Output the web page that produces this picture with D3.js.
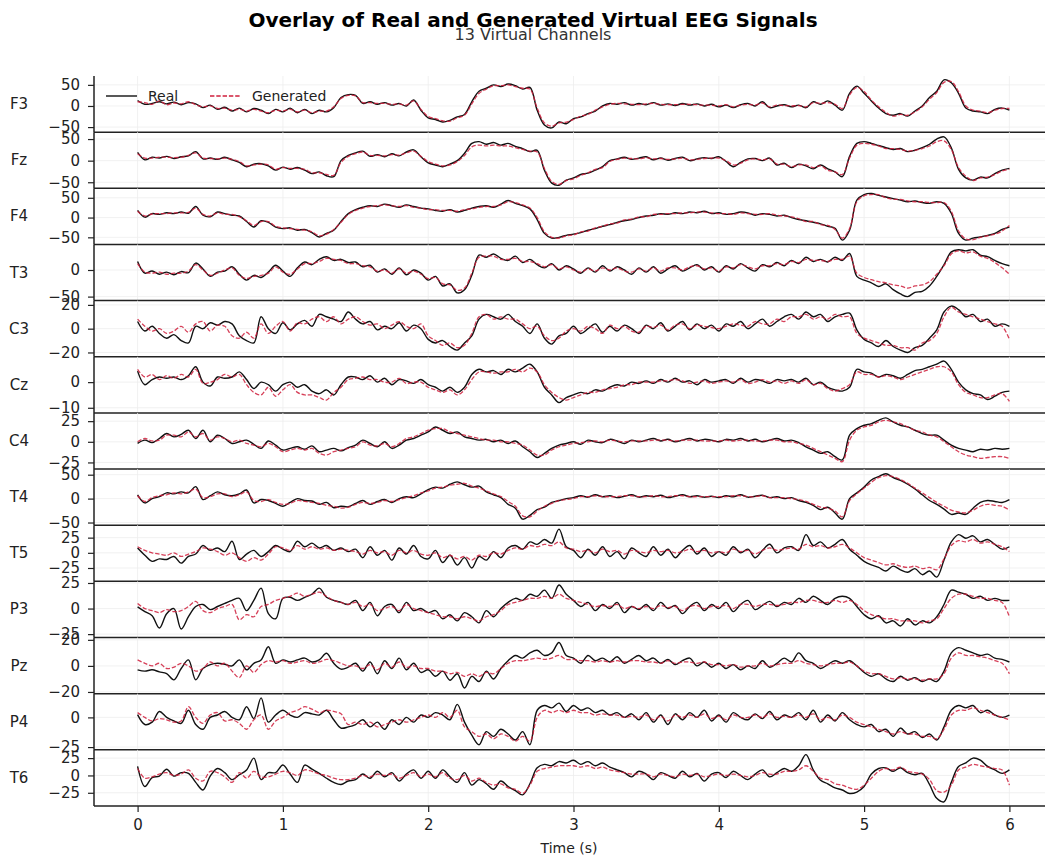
<!DOCTYPE html>
<html>
<head>
<meta charset="utf-8">
<script src="https://cdn.jsdelivr.net/npm/d3@7"></script>
<style>
  body { margin: 0; background: #fff; }
  text { font-family: "DejaVu Sans", sans-serif; fill: #222; }
</style>
</head>
<body>
<svg id="chart" width="1045" height="857"></svg>
<script>
// channel names, top to bottom
var channels = ['F3', 'Fz', 'F4', 'T3', 'C3', 'Cz', 'C4', 'T4', 'T5', 'P3', 'Pz', 'P4', 'T6'];
var sampleStep = 0.05; // seconds between samples, 0..6 s
var xTicks = [0, 1, 2, 3, 4, 5, 6];

// y range and ticks of each panel
var yDomains = [[-62, 71], [-64, 66], [-68, 74], [-57.5, 48], [-23.6, 23.6], [-12, 9.9], [-33, 35],
  [-55.6, 61.8], [-47, 45.5], [-28.3, 26.6], [-21.3, 21.8], [-27.3, 20], [-44, 37]];
var yTicks = [[-50, 0, 50], [-50, 0, 50], [-50, 0, 50], [-50, 0], [-20, 0, 20], [-10, 0], [-25, 0, 25],
  [-50, 0, 50], [-25, 0, 25], [-25, 0, 25], [-20, 0, 20], [-25, 0], [-25, 0, 25]];

// one value per 0.05 s
var realF3 = [13,4,6,10,5,9,3,8,5,-4, 2,-8,-3,-12,-5,-14,-6,-10,-18,-8, -14,-5,-16,-8,-18,-10,-14,-4,20,27,
  25,6,10,4,8,2,6,0,14,-10, -28,-32,-38,-34,-26,-20,10,35,42,50, 46,52,48,40,44,-10,-45,-52,-38,-42,
  -30,-26,-18,-12,0,6,4,8,2,6, 3,8,2,5,1,6,2,5,0,4, -2,2,-4,3,6,0,10,-4,0,3,
  -2,2,-4,10,4,12,2,-10,30,47, 30,12,-5,-18,-22,-18,-24,-12,0,20, 35,62,55,30,-5,-12,-14,-18,-8,-5, -10];
var genF3 = [10,8,4,12,3,7,5,10,3,-2, 0,-6,-5,-10,-8,-12,-8,-12,-16,-10, -12,-8,-14,-10,-16,-12,-12,-2,18,25,
  24,8,8,6,6,4,5,2,12,-8, -25,-30,-35,-36,-28,-22,5,30,40,48, 48,50,46,42,40,-5,-40,-48,-40,-38,
  -32,-24,-20,-10,-2,4,6,5,4,3, 5,6,4,3,3,4,4,3,2,2, 0,3,-2,2,4,2,7,-2,2,1,
  0,1,-2,8,6,8,4,-6,26,44, 34,14,-2,-15,-24,-20,-22,-14,-2,16, 32,56,58,34,0,-10,-12,-16,-10,-6, -6];

var realFz = [19,2,8,6,10,5,9,11,21,4, 6,3,8,2,-4,-14,-8,-7,-12,-22, -15,-20,-16,-22,-30,-26,-35,-37,0,12,
  18,22,10,14,9,16,11,20,25,9, -5,-10,-14,-8,0,17,40,44,38,42, 36,40,33,28,21,24,-22,-52,-57,-45,
  -40,-32,-29,-22,-14,0,4,8,3,6, 9,2,6,1,5,8,0,4,7,5, 9,-2,-14,-4,4,5,0,6,-10,-6,
  -16,-8,-12,-19,-10,-19,-26,-37,10,40, 44,40,35,30,26,28,21,24,30,38, 50,55,30,-20,-40,-45,-38,-40,-30,-22, -18];
var genFz = [16,6,6,8,8,7,8,12,18,6, 5,4,6,3,-2,-12,-10,-8,-10,-20, -16,-18,-18,-20,-28,-28,-32,-34,-4,10,
  16,20,12,12,11,14,13,18,22,10, -2,-8,-12,-10,-2,12,32,36,34,36, 34,34,30,26,22,20,-18,-48,-55,-46,
  -42,-34,-28,-20,-16,-2,3,6,5,4, 7,4,5,3,4,6,2,3,5,6, 6,0,-10,-6,2,4,2,4,-8,-8,
  -14,-10,-10,-16,-12,-22,-26,-32,6,36, 40,38,34,28,28,26,22,24,28,34, 44,46,26,-16,-36,-46,-40,-38,-32,-24, -20];

var realF4 = [18,1,10,8,12,10,14,11,28,6, 2,14,10,6,4,-10,-24,-8,-12,-24, -28,-26,-32,-30,-38,-49,-40,-32,-10,10,
  20,26,30,28,34,30,26,32,28,24, 22,18,16,20,14,18,24,28,30,26, 34,43,36,30,22,-5,-40,-52,-50,-45,
  -42,-38,-32,-28,-22,-18,-12,-8,-5,0, 4,6,10,8,12,10,14,12,16,10, 12,8,10,14,12,6,10,8,4,6,
  0,-5,-8,-12,-16,-22,-27,-57,-32,44, 58,61,56,52,48,44,40,42,38,36, 40,36,11,-40,-57,-52,-49,-45,-40,-30, -24];
var genF4 = [16,4,9,10,10,12,12,13,24,8, 4,12,8,8,2,-8,-20,-10,-10,-22, -26,-28,-30,-32,-36,-46,-42,-30,-12,8,
  18,24,28,30,32,30,28,30,26,24, 20,20,18,18,16,20,22,26,28,28, 32,40,38,32,24,0,-36,-50,-52,-46,
  -44,-36,-34,-26,-22,-16,-14,-6,-4,2, 2,8,8,10,10,12,12,14,14,12, 10,10,8,12,10,8,8,10,6,4,
  2,-3,-10,-10,-18,-20,-30,-52,-28,40, 55,58,58,50,46,46,42,40,40,38, 38,38,16,-34,-54,-56,-50,-46,-42,-34, -20];

var realT3 = [16,-6,-2,-8,-4,-9,-3,-5,13,2, -12,-4,-2,6,-8,-19,-10,-14,-4,9, -2,-12,4,15,10,20,25,18,20,14,
  15,6,9,-4,2,-8,4,-9,0,-6, -19,-12,-30,-26,-43,-37,-10,28,24,30, 22,18,26,14,20,10,4,12,0,8,
  2,-6,4,-4,8,-2,6,0,-8,4, -4,6,-6,2,8,-2,4,10,0,6, -4,8,2,12,4,-2,10,6,14,8,
  18,12,24,16,20,15,24,18,31,-12, -19,-24,-31,-26,-37,-45,-50,-42,-40,-30, -12,10,34,38,36,38,28,25,18,12, 8];
var genT3 = [12,-4,-6,-4,-8,-6,-6,-2,10,0, -10,-6,0,4,-10,-16,-12,-10,-6,6, -4,-8,2,12,12,16,22,20,18,12,
  12,8,6,-2,0,-6,2,-6,-2,-8, -16,-14,-26,-28,-38,-34,-6,24,26,26, 20,20,22,16,16,12,6,10,2,6,
  0,-4,2,-2,4,0,4,-2,-4,2, -2,4,-2,4,4,0,6,8,2,4, -2,6,4,10,6,2,8,8,12,10,
  16,14,20,18,18,16,20,20,26,-6, -14,-18,-22,-24,-28,-30,-34,-30,-28,-22, -8,8,30,36,32,34,26,22,14,4, -8];

var realC3 = [6,-2,2,-4,-8,-5,-10,-12,2,0, 5,3,6,4,-6,-10,-12,10,0,-4, 5,-1,4,7,2,12,10,8,6,14,
  8,4,6,-1,2,0,5,-2,3,0, -9,-12,-10,-15,-18,-12,-6,8,12,10, 8,12,6,2,-4,4,-8,-13,-6,-4,
  2,-4,0,4,-3,2,-2,3,0,-4, 3,0,5,-2,2,6,-1,4,0,3, -2,4,2,6,0,4,8,2,6,10,
  12,8,14,10,12,6,10,12,13,-1, -9,-12,-15,-10,-15,-18,-20,-16,-14,-8, -1,14,19,16,10,12,6,8,2,4, 2];
var genC3 = [8,2,-2,0,-4,-2,2,-3,4,6, -2,3,2,-6,-8,-3,-8,4,-4,2, 6,-2,5,4,8,10,6,10,4,8,
  10,6,3,4,0,3,6,2,0,4, -6,-10,-14,-12,-16,-14,-4,10,12,8, 10,8,8,4,0,2,-6,-10,-8,-2,
  0,-2,2,0,-4,3,0,2,-2,-3, 2,1,3,-1,3,4,0,3,2,1, 0,2,4,3,2,6,4,4,8,6,
  10,10,12,8,10,8,12,10,10,-4, -8,-10,-12,-14,-14,-16,-16,-18,-12,-10, -4,10,18,14,12,10,8,6,4,2, -9];

var realCz = [4.3,-1,1,2,1.5,2,1,2.5,6,0, -1.5,2,1.5,2,4,1,-2.5,0,-1,-3.5, -1,0,-2,-1,-3.5,-4.5,-3,-5,-1,2,
  2,1,2.5,0,1.5,-1,1,0.5,-0.5,1, -1,-2,-3.5,-2,-4,-2,3,5,4,4.5, 3,5,4,5.5,7,4,-2,-5,-8,-6,
  -5,-4,-4.5,-3,-3.5,-2,-1,-1.5,0,-0.5, 0.5,-0.5,1,0,1.5,0,0.5,-1,1,0, 0.5,1,-0.5,1.5,0,1,0.5,-0.5,1,0.5,
  1,0,1.5,-1,0,-2,-3,-3.5,-2,5, 4,3.5,2,3,2.5,1.5,3,4.5,5,6, 7,8.2,5,0,-3,-4.5,-5,-6.8,-5.5,-4, -3.5];
var genCz = [5,2,3,1,2.5,1.5,3,2,5,-0.5, 0,1,3,2,3,-1,-4,-5,-2,-5.5, -3,-1,-4,-5,-5,-6,-7,-4,-2,1,
  1.5,2,1,1,0,0,1.5,-0.5,0,0, -2,-3,-4,-3,-5,-3,1,4,4,3.5, 4,4,5,4,5.5,4,-1,-4,-6,-7,
  -6,-5,-4,-4,-3,-2.5,-2,-1,-1,0, 0,0,0.5,0.5,1,0.5,-0.5,0,0.5,-0.5, 0,0.5,0,1,-0.5,0,1,0,0.5,-0.5,
  0.5,-0.5,1,-1,-0.5,-2.5,-3.5,-2.5,-1,4, 3,3,2,2.5,2,1,2,3,4,5, 6,6,4,-1,-4,-5,-6,-6,-5,-4.5, -7.5];

var realC4 = [-2,2,-1,4,10,6,9,14,4,14, 0,8,4,-2,0,2,-3,-8,1,-4, -10,-8,-6,-9,-5,-12,-10,-8,-11,-7,
  -4,2,-2,-6,0,-8,-4,2,4,8, 12,18,14,10,12,6,4,2,3,0, 2,-2,1,-6,-12,-19,-14,-8,-4,-2,
  0,-3,2,0,-1,3,1,-2,2,0, 2,4,1,3,0,2,4,1,3,2, 0,3,2,4,1,3,0,2,4,1,
  2,-1,-6,-10,-14,-12,-18,-22,8,16, 20,22,26,29,24,20,18,14,10,8, 8,2,-4,-8,-10,-12,-9,-10,-8,-9, -8];
var genC4 = [0,4,1,2,8,8,6,12,6,10, 2,6,4,0,2,-2,-4,-6,-2,-6, -12,-10,-8,-10,-8,-14,-16,-12,-10,-8,
  -6,0,-4,-5,-2,-6,-2,4,6,10, 14,16,16,12,10,8,6,4,2,2, 0,0,-2,-4,-10,-16,-16,-10,-6,-4,
  -2,-1,0,1,0,2,1,0,1,1, 1,2,2,2,1,2,2,2,1,1, 1,2,1,2,2,1,1,2,2,0,
  0,-2,-4,-8,-12,-16,-20,-24,2,14, 18,20,24,26,24,22,18,14,12,8, 6,0,-6,-12,-16,-18,-20,-19,-18,-18, -20];

var realT4 = [8,-9,0,4,12,10,14,12,25,-2, 6,14,8,6,10,18,-9,-2,-4,-10, -16,-8,0,-4,-5,-12,-8,-19,-16,-17,
  -10,-4,-12,-6,-2,-8,0,4,2,10, 19,24,22,30,35,29,24,26,14,8, 2,-12,-20,-43,-35,-23,-18,-8,-4,0,
  2,6,3,8,4,6,2,5,8,3, 6,4,7,2,5,8,4,6,3,5, 2,6,4,8,3,5,7,2,4,0,
  2,-4,-8,-14,-23,-18,-30,-43,0,12, 24,39,46,52,44,38,30,20,8,-4, -12,-22,-33,-30,-33,-20,-8,-4,-6,-8, -2];
var genT4 = [6,-6,2,6,8,12,10,14,20,2, 4,10,10,4,8,14,-4,-6,-2,-8, -12,-10,-4,-6,-8,-10,-14,-16,-20,-18,
  -12,-8,-10,-8,-4,-6,-2,2,6,12, 16,22,24,28,30,32,26,22,16,10, 4,-6,-16,-36,-38,-26,-16,-10,-4,-2,
  0,4,4,6,4,4,4,6,6,4, 4,6,4,4,6,6,4,4,4,4, 4,4,6,6,4,4,6,2,2,2,
  0,-2,-6,-12,-18,-20,-26,-38,-4,10, 22,34,44,48,46,40,32,22,12,2, -8,-16,-24,-28,-30,-24,-16,-12,-14,-16, -24];

var realT5 = [8,-4,-14,-10,-11,-6,-17,-6,-2,12, 4,8,2,19,-11,-2,4,-6,2,12, 6,2,19,10,16,8,12,4,8,2,
  6,-8,10,-4,4,-12,8,-2,12,-6, -10,4,-16,-4,-20,-8,-25,-6,-12,2, -8,8,12,6,18,14,22,16,39,10,
  4,-8,6,-4,10,-6,2,-10,8,0, -6,10,-4,6,-8,4,12,-2,8,-6, 2,-4,10,0,6,-8,4,14,0,8,
  10,4,30,12,18,8,14,22,6,-4, -14,-20,-24,-30,-22,-28,-32,-26,-36,-30, -40,-12,18,30,24,28,18,22,14,6, 10];
var genT5 = [10,4,0,-2,-4,0,-6,-2,2,8, 6,2,-4,0,-8,-14,-8,-12,-2,10, 8,4,12,6,10,6,8,4,6,4,
  2,-2,4,0,2,-4,4,0,4,-2, -4,0,-8,-4,-10,-6,-12,-4,-6,0, -2,4,8,6,12,10,14,12,18,8,
  6,2,4,0,6,2,4,-2,4,2, 0,4,2,4,0,2,6,2,4,0, 2,0,6,2,4,-2,4,8,4,6,
  8,6,14,10,12,8,10,14,8,0, -8,-12,-16,-20,-18,-22,-24,-22,-26,-24, -28,-10,12,20,18,22,16,18,14,10, 2];

var realP3 = [1.6,-3,-7,-19,-5,0,-20,-8,2,4, -1,2,5,8,10,-2,8,20,-5,-10, 10,11,8,11,14,20,11,8,6,4,
  8,-2,6,-7,2,4,-4,6,-2,0, -4,-2,-10,-6,-12,-4,-8,-14,-2,-8, 0,6,10,8,14,12,18,10,23,14,
  8,2,6,-2,4,0,6,-4,2,-1, 4,-2,6,0,3,-5,2,6,-2,4, 0,6,-3,4,8,-1,3,7,2,6,
  4,10,6,12,8,4,10,12,10,2, -6,-10,-7,-14,-12,-17,-10,-16,-12,-14, -8,4,18,16,14,10,12,8,10,8, 8];
var genP3 = [5,0,-2,-4,-1,-3,-2,2,7,-2, -4,0,2,4,-11,-6,-8,2,4,8, 10,12,15,12,14,16,12,8,6,4,
  6,2,4,-2,0,2,-2,4,0,-2, -4,-6,-8,-8,-10,-8,-10,-12,-8,-6, -2,4,6,8,10,10,12,10,14,10,
  8,6,4,2,3,2,4,0,2,0, 2,0,3,1,2,-2,2,3,0,2, 2,3,0,4,4,2,4,4,3,4,
  6,6,8,8,6,6,8,6,8,4, -2,-6,-8,-10,-10,-12,-12,-12,-14,-12, -10,0,10,14,14,12,10,10,8,6, -8];

var realPz = [-3,-4,-3,-4.6,-6,-10.7,-2,4.6,-10.7,-2, 1,2,1.3,0,4.6,-3,2,4.6,14.7,2, 4.6,3,4.6,6,3,4.6,9.7,2,-2.5,-1,
  2,-4,3,-6,4,-2,6,-3,2,-5, -3,-8,-4,-11,-6,-17,-8,-12,-4,-10, -2,4,8,6,10,12,8,10,18,8,
  6,2,8,4,6,3,7,2,5,8, 4,6,2,5,1,4,6,0,3,-1, 2,-2,1,-3,0,-2,4,-1,2,6,
  3,10,4,2,-2,1,4,2,4,0, -5,-8,-6,-10,-12,-8,-11,-9,-12,-10, -12,-4,10,14,12,10,8,9,6,5, 3];
var genPz = [4.6,2,0,2,-2,-1,2,0,-4,-2, 3,0,2,-4,-9,0,-5,1,4,3, 4,2,3,4,2,3,5,4,2,0,
  0,-2,1,-3,2,-1,3,-1,0,-2, -2,-4,-4,-6,-5,-8,-6,-8,-5,-6, -2,2,4,4,5,6,5,6,8,5,
  5,4,4,3,4,3,4,3,4,4, 3,3,2,4,2,3,3,2,3,1, 1,0,1,-1,0,0,2,0,1,2,
  2,4,2,1,0,1,2,2,3,0, -4,-6,-6,-8,-10,-9,-10,-10,-11,-10, -10,-6,6,10,8,8,7,6,4,2, -6];

var realP4 = [2.3,-6,-4,5,0,-3,-5,6,-6,-10, 0,2,5,0,-2,9,-1,16.4,-4,2, 6,2,0,4,3,2,6,-2,-9,-8,
  -6,-2,-8,-4,-10,-2,-6,0,-4,2, 0,4,2,-2,11,-4,-15,-23,-12,-16, -10,-14,-19,-12,-23,6,10,8,12,5,
  10,6,8,4,6,2,4,0,3,-2, 4,-4,2,-6,3,-2,4,0,6,-3, 2,-4,4,0,-2,3,-1,5,-2,2,
  0,4,-2,6,-4,2,-3,4,-2,-6, -8,-6,-12,-10,-16,-9,-14,-12,-17,-14, -19,-8,6,10,8,10,4,6,2,0, 2];
var genP4 = [4,0,-3,-1,-2,-4,-3,9,0,-5, 2,4,-3,-2,-5,-10,-2,2,-10,-3, 0,4,6,9,7,4,6,5,3,-6,
  -4,-6,-4,-8,-6,-4,-2,-4,-2,0, 2,0,4,0,6,-8,-12,-16,-14,-18, -14,-16,-20,-16,-20,0,6,4,6,4,
  6,4,4,2,3,2,2,0,1,0, 2,-2,1,-3,2,0,2,0,3,-1, 1,-2,2,0,0,2,0,3,0,1,
  0,2,0,3,-2,0,-2,2,0,-4, -6,-8,-10,-12,-14,-12,-14,-14,-16,-16, -18,-10,2,6,6,8,6,4,2,0, -2];

var realT6 = [13,-16,-3,-1,9,-1,4,3,-10,-21, -1,10,4,-6,1,8,25,-6,4,4, 15,2,-10,15,9,3,-4,-10,-13,-8,
  -6,2,-4,6,-2,4,-8,2,8,-4, 6,-4,8,-2,-10,4,-14,-6,-12,-20, -8,-16,-22,-28,-12,11,16,14,20,18,
  22,16,20,14,18,12,8,4,-2,6, 2,-6,4,0,-4,6,-2,3,-8,2, 4,-3,6,0,-6,2,8,-2,4,10,
  6,14,30,8,-7,-12,-18,-21,-26,-24, -16,2,10,11,6,11,4,1,3,-13, -33,-38,-10,13,18,25,22,13,8,3, 8];
var genT6 = [10,-4,-2,2,4,0,2,8,-4,-8, 6,4,-2,-10,4,-4,6,-2,-2,2, 6,4,0,8,6,2,0,-4,-6,-6,
  -4,0,-2,2,0,2,-4,0,4,-2, 2,-2,4,-4,-6,0,-8,-4,-10,-14, -12,-18,-20,-26,-14,6,10,12,14,14,
  14,12,14,10,12,8,6,4,2,2, 2,-2,2,0,-2,2,0,2,-2,0, 2,0,2,0,-2,0,4,2,2,6,
  6,8,14,6,-4,-6,-12,-14,-18,-20, -14,-4,6,10,8,12,6,4,2,-6, -22,-24,-14,8,12,16,14,12,10,8, -14];

var realSeries = [realF3, realFz, realF4, realT3, realC3, realCz, realC4, realT4, realT5, realP3, realPz, realP4, realT6];
var genSeries = [genF3, genFz, genF4, genT3, genC3, genCz, genC4, genT4, genT5, genP3, genPz, genP4, genT6];

var svg = d3.select('#chart');
var plotLeft = 94, plotRight = 1053, plotTop = 76, panelH = 56.15;
var realColor = '#111111', genColor = '#cf1f3c';

var x = d3.scaleLinear().domain([-0.3, 6.3]).range([plotLeft, plotRight]);

// title
svg.append('text').attr('x', 533).attr('y', 27).attr('text-anchor', 'middle')
  .style('font-size', '20px').style('font-weight', 'bold').style('fill', '#000')
  .text('Overlay of Real and Generated Virtual EEG Signals');
svg.append('text').attr('x', 533).attr('y', 40).attr('text-anchor', 'middle')
  .style('font-size', '16px').style('fill', '#333')
  .text('13 Virtual Channels');

channels.forEach(function(name, i){
  var y0 = plotTop + i * panelH;
  var y = d3.scaleLinear().domain(yDomains[i]).range([y0 + panelH, y0]);
  var g = svg.append('g');

  // light grid
  g.selectAll('line.vg').data(xTicks).enter().append('line')
    .attr('x1', function(d){ return x(d); }).attr('x2', function(d){ return x(d); })
    .attr('y1', y0).attr('y2', y0 + panelH)
    .attr('stroke', '#eeeeee').attr('stroke-width', 0.8);
  g.selectAll('line.hg').data(yTicks[i]).enter().append('line')
    .attr('x1', plotLeft).attr('x2', plotRight)
    .attr('y1', function(d){ return y(d); }).attr('y2', function(d){ return y(d); })
    .attr('stroke', '#eeeeee').attr('stroke-width', 0.8);

  var line = d3.line()
    .x(function(d, j){ return x(j * sampleStep); })
    .y(function(d){ return y(d); })
    .curve(d3.curveCatmullRom.alpha(0.5));

  g.append('path').datum(realSeries[i])
    .attr('d', line).attr('fill', 'none')
    .attr('stroke', realColor).attr('stroke-width', 1.4).attr('stroke-linejoin', 'round');
  g.append('path').datum(genSeries[i])
    .attr('d', line).attr('fill', 'none')
    .attr('stroke', genColor).attr('stroke-width', 1.3).attr('stroke-dasharray', '4.4,1.9')
    .attr('opacity', 0.85);

  // y axis
  var yAxis = d3.axisLeft(y).tickValues(yTicks[i]).tickSize(6).tickPadding(8);
  var ya = g.append('g').attr('transform', 'translate(' + plotLeft + ',0)').call(yAxis);
  ya.select('.domain').remove();
  ya.selectAll('text').style('font-size', '15px').style('font-family', '"DejaVu Sans", sans-serif').attr('fill', '#222');
  ya.selectAll('line').attr('stroke', '#222').attr('stroke-width', 1.2);

  // spines
  g.append('line').attr('x1', plotLeft).attr('x2', plotLeft).attr('y1', y0).attr('y2', y0 + panelH)
    .attr('stroke', '#222').attr('stroke-width', 1.5);
  g.append('line').attr('x1', plotLeft).attr('x2', plotRight).attr('y1', y0 + panelH).attr('y2', y0 + panelH)
    .attr('stroke', '#222').attr('stroke-width', 1.5);

  // channel name
  g.append('text').attr('x', 19).attr('y', y0 + panelH / 2 + 5).attr('text-anchor', 'middle')
    .style('font-size', '15px').text(name);
});

// bottom time axis
var xAxis = d3.axisBottom(x).tickValues(xTicks).tickSize(6).tickPadding(7).tickFormat(d3.format('d'));
var bottomY = plotTop + channels.length * panelH;
var xa = svg.append('g').attr('transform', 'translate(0,' + bottomY + ')').call(xAxis);
xa.select('.domain').remove();
xa.selectAll('text').style('font-size', '15px').style('font-family', '"DejaVu Sans", sans-serif').attr('fill', '#222');
xa.selectAll('line').attr('stroke', '#222').attr('stroke-width', 1.2);

svg.append('text').attr('x', 569).attr('y', 853).attr('text-anchor', 'middle')
  .style('font-size', '14px').text('Time (s)');

// legend inside the first panel
var legendY = 96;
var legend = svg.append('g');
legend.append('line').attr('x1', 106).attr('x2', 137).attr('y1', legendY).attr('y2', legendY)
  .attr('stroke', realColor).attr('stroke-width', 1.4);
legend.append('text').attr('x', 148).attr('y', legendY + 5).style('font-size', '14px').text('Real');
legend.append('line').attr('x1', 210).attr('x2', 241).attr('y1', legendY).attr('y2', legendY)
  .attr('stroke', genColor).attr('stroke-width', 1.3).attr('stroke-dasharray', '4.4,1.9');
legend.append('text').attr('x', 252).attr('y', legendY + 5).style('font-size', '14px').text('Generated');
</script>
</body>
</html>
